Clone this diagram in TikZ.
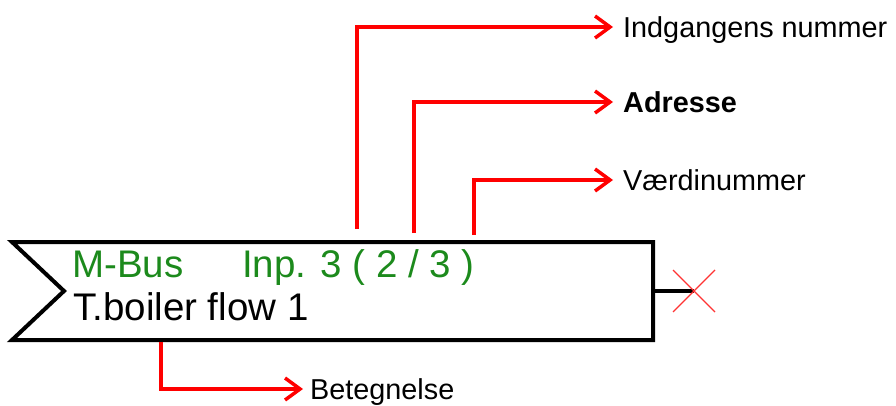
\documentclass[tikz,border=0pt]{standalone}
\usepackage{fontspec}
\setmainfont{Liberation Sans}
\usetikzlibrary{arrows.meta, calc}

\definecolor{busgreen}{RGB}{28,138,28}
\tikzset{
        pointer/.style = {red, line width = 3.5pt, -{Straight Barb[length = 15pt, width = 22pt]}},
        caption/.style = {anchor = west, inner xsep = 10pt, inner ysep = 0pt,
                text height = 20.4pt, text depth = 0pt, font = \fontsize{28.8}{34}\selectfont},
        boxtext/.style = {anchor = base west, inner sep = 0pt, font = \fontsize{38.5}{46}\selectfont}
}

\begin{document}
\begin{tikzpicture}[x = 1pt, y = -1pt]
        \useasboundingbox (0, 0) rectangle (896, 405);

        \draw [line width = 4pt, line join = miter] (12, 242) -- (653, 242) -- (653, 340) -- (12, 340) -- (64, 291) -- cycle;
        \coordinate (outlet) at (653, 291);
        \coordinate (cross) at (694, 291);
        \draw [line width = 4pt] (outlet) -- (cross);
        \draw [red!80, line width = 1.2pt] ($(cross) + (-21, -21)$) -- ($(cross) + (21, 21)$);
        \draw [red!80, line width = 1.2pt] ($(cross) + (-21, 21)$) -- ($(cross) + (21, -21)$);

        \node (bus) [boxtext, text = busgreen] at (72, 277) {M-Bus};
        \node (inp) [boxtext, text = busgreen] at (242, 277) {Inp. 3 ( 2 / 3 )};
        \node (name) [boxtext] at (73, 320) {T.boiler flow 1};

        \coordinate (inputno) at (357, 229);
        \coordinate (address) at (414, 233);
        \coordinate (valueno) at (474, 235);
        \coordinate (designation) at (161, 342);

        \node (l1) [caption] at (613, 27) {Indgangens nummer};
        \node (l2) [caption, font = \fontsize{28.8}{34}\selectfont\bfseries] at (613, 102) {Adresse};
        \node (l3) [caption] at (613, 180) {Værdinummer};
        \node (l4) [caption, inner xsep = 7pt] at (303, 389) {Betegnelse};

        \draw [pointer] (inputno) |- (l1.west);
        \draw [pointer] (address) |- (l2.west);
        \draw [pointer] (valueno) |- (l3.west);
        \draw [pointer] (designation) |- (l4.west);
      \end{tikzpicture}
\end{document}
